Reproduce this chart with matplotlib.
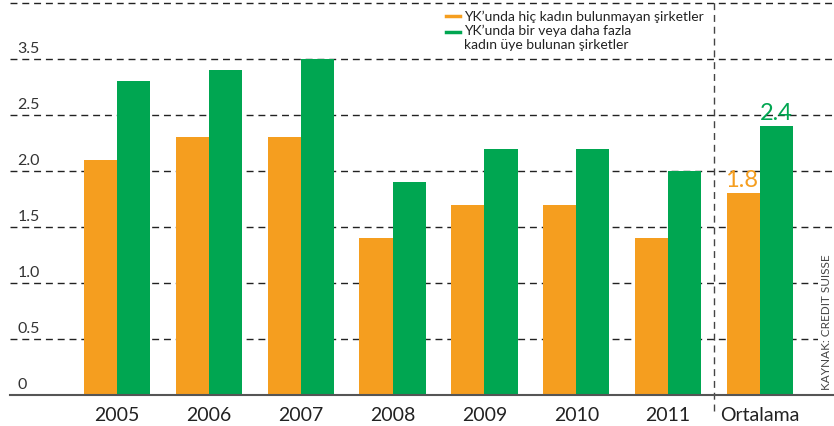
import matplotlib
matplotlib.use("Agg")
import matplotlib.pyplot as plt
from matplotlib.transforms import blended_transform_factory
import numpy as np

categories = ["2005", "2006", "2007", "2008", "2009", "2010", "2011", "Ortalama"]
no_women = [2.1, 2.3, 2.3, 1.4, 1.7, 1.7, 1.4, 1.8]
with_women = [2.8, 2.9, 3.0, 1.9, 2.2, 2.2, 2.0, 2.4]
grid_values = [0.5, 1.0, 1.5, 2.0, 2.5, 3.0, 3.5]
ytick_values = [0, 0.5, 1.0, 1.5, 2.0, 2.5, 3.0]
ytick_labels = ["0", "0.5", "1.0", "1.5", "2.0", "2.5", "3.5"]
legend_labels = ["YK\u2019unda hiç kadın bulunmayan şirketler",
                 "YK\u2019unda bir veya daha fazla\nkadın üye bulunan şirketler"]
source = "KAYNAK: CREDIT SUISSE"

ORANGE = "#F59E1F"
GREEN = "#00A651"
DARK = "#333333"

plt.rcParams['font.family'] = ['Lato', 'DejaVu Sans']

fig = plt.figure(figsize=(8.34, 4.27), dpi=100)
ax = fig.add_axes([10/834, 31/427, 1 - 10/834, 396/427])
ax.set_xlim(-1.164, 7.805)
ax.set_ylim(0, 3.536)

x = np.arange(len(categories))
w = 0.36
ax.bar(x - w/2, no_women, width=w, color=ORANGE, zorder=3)
ax.bar(x + w/2, with_women, width=w, color=GREEN, zorder=3)

for g in grid_values:
    ax.axhline(g, color="#222222", lw=1.0, ls=(0, (5, 3.5)), zorder=1)

# vertical separator
ax.plot([6.5, 6.5], [-0.14, 3.6], color="#444444", lw=1.0, ls=(0, (5, 3.5)),
        clip_on=False, zorder=2)

for s in ["top", "right", "left"]:
    ax.spines[s].set_visible(False)
ax.spines["bottom"].set_color("#555555")
ax.spines["bottom"].set_linewidth(1.5)
ax.spines["bottom"].set_zorder(4)

ax.set_yticks([])
ax.set_xticks(x)
ax.set_xticklabels(categories, fontsize=14, color="#222222")
ax.tick_params(axis="x", length=0, pad=8)

trans = blended_transform_factory(ax.transAxes, ax.transData)
for v, lab in zip(ytick_values, ytick_labels):
    ax.text(0.009, v + 0.04, lab, transform=trans, fontsize=11.5, color=DARK,
            ha="left", va="bottom")

# annotations for average
ax.text(6.5 + 0.3, no_women[-1] + 0.03, "1.8", color=ORANGE, fontsize=17,
        ha="center", va="bottom")
ax.text(7 + w/2, with_women[-1] + 0.03, "2.4", color=GREEN, fontsize=17,
        ha="center", va="bottom")

# legend
fig.lines.append(plt.Line2D([446/834, 460/834], [1 - 17/427, 1 - 17/427],
                            color=ORANGE, lw=2.5, transform=fig.transFigure))
fig.lines.append(plt.Line2D([446/834, 460/834], [1 - 33/427, 1 - 33/427],
                            color=GREEN, lw=2.5, transform=fig.transFigure))
fig.text(464/834, 1 - 17/427, legend_labels[0], fontsize=10, color="#222222",
         ha="left", va="center")
fig.text(464/834, 1 - 25/427, legend_labels[1], fontsize=10, color="#222222",
         ha="left", va="top", linespacing=1.15)

fig.text(826/834, 1 - 390/427, source, rotation=90, fontsize=8.5, color="#444444",
         ha="center", va="bottom", zorder=10,
         bbox=dict(facecolor="white", edgecolor="none", pad=1.5))

fig.savefig("out.png", dpi=100)
